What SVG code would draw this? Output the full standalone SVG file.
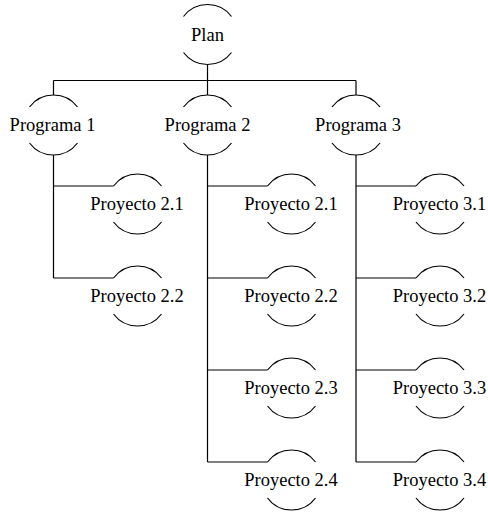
<svg xmlns="http://www.w3.org/2000/svg" xmlns:xlink="http://www.w3.org/1999/xlink" width="488" height="515" viewBox="0 0 488 515">
<style>
.arc{fill:none;stroke:#000;stroke-width:1.2}
.ln{fill:none;stroke:#000;stroke-width:1.2}
.t{font-family:'Liberation Serif','Times New Roman',serif;font-size:18.5px;fill:#000;text-anchor:middle}
</style>
<defs>
<path id="shape" class="arc" d="M-24,-18 A30,30 0 0 1 24,-18 M-24,18 A30,30 0 0 0 24,18"/>
</defs>
<rect width="488" height="515" fill="#fff"/>
<g id="connectors">
<path class="ln" d="M207.5,64.5 V80.5 M53.5,80.5 H356 M53.5,80.5 V95 M207.5,80.5 V95 M356,80.5 V95"/>
<path class="ln" d="M53.5,155 V278 M53.5,186 H113.5 M53.5,278 H113.5"/>
<path class="ln" d="M207.5,155 V462 M207.5,186 H267.5 M207.5,278 H267.5 M207.5,370 H267.5 M207.5,462 H267.5"/>
<path class="ln" d="M356,155 V462 M356,186 H416 M356,278 H416 M356,370 H416 M356,462 H416"/>
</g>
<g id="plan"><use xlink:href="#shape" x="207.5" y="34.5"/><text class="t" font-family="Liberation Serif, serif" x="207.5" y="40.5">Plan</text></g>
<g id="programa1"><use xlink:href="#shape" x="53.5" y="125"/><text class="t" font-family="Liberation Serif, serif" x="52.5" y="131">Programa 1</text></g>
<g id="programa2"><use xlink:href="#shape" x="207.5" y="125"/><text class="t" font-family="Liberation Serif, serif" x="207.5" y="131">Programa 2</text></g>
<g id="programa3"><use xlink:href="#shape" x="356" y="125"/><text class="t" font-family="Liberation Serif, serif" x="358" y="131">Programa 3</text></g>
<g id="p1-proyecto21"><use xlink:href="#shape" x="137.5" y="204"/><text class="t" font-family="Liberation Serif, serif" x="137" y="209.5">Proyecto 2.1</text></g>
<g id="p1-proyecto22"><use xlink:href="#shape" x="137.5" y="296"/><text class="t" font-family="Liberation Serif, serif" x="137" y="301.5">Proyecto 2.2</text></g>
<g id="proyecto21"><use xlink:href="#shape" x="291.5" y="204"/><text class="t" font-family="Liberation Serif, serif" x="291" y="209.5">Proyecto 2.1</text></g>
<g id="proyecto22"><use xlink:href="#shape" x="291.5" y="296"/><text class="t" font-family="Liberation Serif, serif" x="291" y="301.5">Proyecto 2.2</text></g>
<g id="proyecto23"><use xlink:href="#shape" x="291.5" y="388"/><text class="t" font-family="Liberation Serif, serif" x="291" y="393.5">Proyecto 2.3</text></g>
<g id="proyecto24"><use xlink:href="#shape" x="291.5" y="480"/><text class="t" font-family="Liberation Serif, serif" x="291" y="485.5">Proyecto 2.4</text></g>
<g id="proyecto31"><use xlink:href="#shape" x="440" y="204"/><text class="t" font-family="Liberation Serif, serif" x="439.5" y="209.5">Proyecto 3.1</text></g>
<g id="proyecto32"><use xlink:href="#shape" x="440" y="296"/><text class="t" font-family="Liberation Serif, serif" x="439.5" y="301.5">Proyecto 3.2</text></g>
<g id="proyecto33"><use xlink:href="#shape" x="440" y="388"/><text class="t" font-family="Liberation Serif, serif" x="439.5" y="393.5">Proyecto 3.3</text></g>
<g id="proyecto34"><use xlink:href="#shape" x="440" y="480"/><text class="t" font-family="Liberation Serif, serif" x="439.5" y="485.5">Proyecto 3.4</text></g>
</svg>
